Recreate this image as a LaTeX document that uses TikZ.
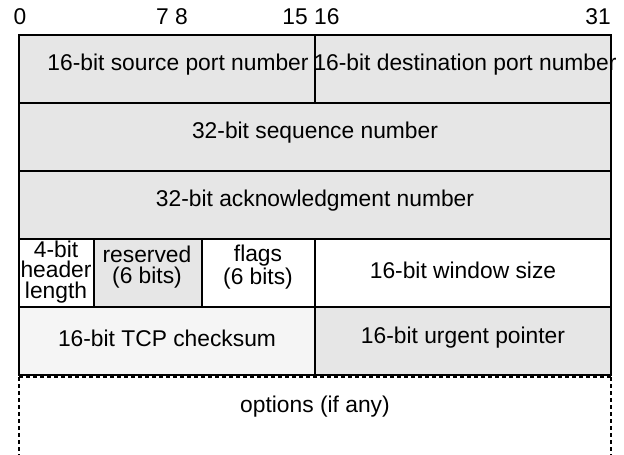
\documentclass[tikz,border=0pt]{standalone}
\usepackage{fontspec}
\setmainfont{Liberation Sans}
\definecolor{cellgray}{HTML}{E6E6E6}
\definecolor{cellpale}{HTML}{F5F5F5}
\begin{document}
\begin{tikzpicture}[x=1pt,y=-1pt,
  cell/.style={draw=black,line width=2pt},
  lbl/.style={font=\fontsize{22.8}{20.8}\selectfont,inner sep=0pt,align=center},
  opt/.style={draw=black,line width=2pt,dash pattern=on 4pt off 3pt}]
\useasboundingbox (0,0) rectangle (624,455);
% row 1
\draw[cell,fill=cellgray] (19,35) rectangle (315,103);
\draw[cell,fill=cellgray] (315,35) rectangle (611,103);
% row 2, 3
\draw[cell,fill=cellgray] (19,103) rectangle (611,171);
\draw[cell,fill=cellgray] (19,171) rectangle (611,239);
% row 4
\draw[cell,fill=white] (19,239) rectangle (94,307);
\draw[cell,fill=cellgray] (94,239) rectangle (202,307);
\draw[cell,fill=white] (202,239) rectangle (315,307);
\draw[cell,fill=white] (315,239) rectangle (611,307);
% row 5
\draw[cell,fill=cellpale] (19,307) rectangle (315,375);
\draw[cell,fill=cellgray] (315,307) rectangle (611,375);
% options
\draw[opt] (19,377) -- (611,377);
\draw[opt] (19,377) -- (19,455);
\draw[opt] (611,377) -- (611,455);
% bit labels
\node[lbl] (b0) at (20,17) {0};
\node[lbl] (b78) at (172,17) {7 8};
\node[lbl] (b1516) at (311,17) {15 16};
\node[lbl] (b31) at (598,17) {31};
% texts
\node[lbl] (src) at (178,65) {16-bit source port number};
\node[lbl] (dst) at (465,65) {16-bit destination port number};
\node[lbl] (seq) at (315,133) {32-bit sequence number};
\node[lbl] (ack) at (315,201) {32-bit acknowledgment number};
\node[lbl] (hl) at (56,272) {4-bit\\header\\length};
\node[lbl] (res) at (147,267) {reserved\\(6 bits)};
\node[lbl] (flg) at (258,267) {flags\\(6 bits)};
\node[lbl] (win) at (463,270) {16-bit window size};
\node[lbl] (chk) at (167,338) {16-bit TCP checksum};
\node[lbl] (urg) at (463,338) {16-bit urgent pointer};
\node[lbl] (opts) at (315,407) {options (if any)};
\end{tikzpicture}
\end{document}
